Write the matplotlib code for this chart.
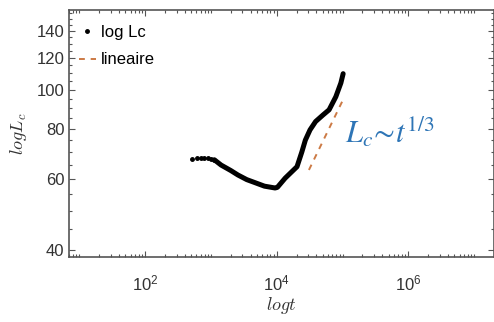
import numpy as np
import matplotlib.pyplot as plt
from matplotlib.ticker import FixedLocator, NullFormatter, LogLocator

# donnees
t_pts = [522, 624, 702, 789, 889, 1000, 1125]
Lc_pts = [67.4, 67.8, 67.8, 67.8, 67.6, 67.4, 67.0]

t_courbe = [1125, 1425, 2000, 2570, 3500, 4630, 6500, 9420, 10200, 13400,
            20300, 24000, 27200, 32000, 38900, 50000, 62400, 78900, 94200, 102000]
Lc_courbe = [67.0, 65.0, 63.0, 61.4, 59.8, 58.8, 57.6, 57.0, 57.2, 60.3,
             64.4, 70.0, 75.0, 79.5, 83.4, 86.5, 89.2, 96.1, 104.0, 109.7]

t_lin = [30800, 102000]
Lc_lin = [63.2, 94.6]

yticks = [40, 60, 80, 100, 120, 140]
yminor = [45, 50, 55, 65, 70, 75, 85, 90, 95, 105, 110, 115, 125, 130, 135, 145, 150, 155]

plt.rcParams['font.family'] = ['Liberation Sans', 'DejaVu Sans']
plt.rcParams['mathtext.fontset'] = 'custom'
plt.rcParams['mathtext.rm'] = 'Liberation Sans'
plt.rcParams['mathtext.it'] = 'Liberation Sans:italic'

gris = '#555555'
fig = plt.figure(figsize=(4.94, 3.22), dpi=100)
ax = fig.add_axes([0.140, 0.202, 0.860, 0.767])

ax.plot(t_courbe, Lc_courbe, '-', color='k', lw=3.6, solid_capstyle='round',
        solid_joinstyle='round')
ax.plot(t_pts, Lc_pts, '.', color='k', ms=5, label='log Lc')
ax.plot(t_lin, Lc_lin, '--', color='#CC7A45', lw=1.4, dashes=(3, 3), label='lineaire')

ax.set_xscale('log')
ax.set_yscale('log')
ax.set_xlim(7, 2e7)
ax.set_ylim(38.4, 158)

ax.xaxis.set_major_locator(FixedLocator([1e2, 1e4, 1e6]))
ax.xaxis.set_minor_locator(LogLocator(base=10, subs=np.arange(1, 10), numticks=20))
ax.xaxis.set_minor_formatter(NullFormatter())
ax.set_xticklabels(['$\\mathregular{10^2}$', '$\\mathregular{10^4}$', '$\\mathregular{10^6}$'])

ax.yaxis.set_major_locator(FixedLocator(yticks))
ax.yaxis.set_minor_locator(FixedLocator(yminor))
ax.yaxis.set_minor_formatter(NullFormatter())
ax.set_yticklabels([str(v) for v in yticks])

ax.tick_params(which='both', direction='in', top=True, right=True, colors=gris,
               labelcolor='#333333', labelsize=12)
ax.tick_params(which='major', length=4, width=0.8)
ax.tick_params(which='minor', length=2.5, width=0.8)
ax.tick_params(axis='x', pad=12)
for s in ax.spines.values():
    s.set_color(gris)
    s.set_linewidth(1.2)

ax.set_xlabel('$logt$', fontsize=13, color='#333333', labelpad=1, math_fontfamily='cm')
ax.set_ylabel('$logL_c$', fontsize=13, color='#333333', labelpad=5, math_fontfamily='cm')

ax.text(1.07e5, 74, '$L_c\\!\\sim\\!t^{1/3}$', fontsize=22, color='#2E75B6',
        ha='left', va='baseline', math_fontfamily='stix')

ax.legend(loc='upper left', frameon=False, fontsize=12, handlelength=1.0,
          handletextpad=0.3, borderaxespad=0.3, labelspacing=0.75,
          borderpad=0.6, bbox_to_anchor=(-0.012, 1.0))

plt.savefig('out.png')
